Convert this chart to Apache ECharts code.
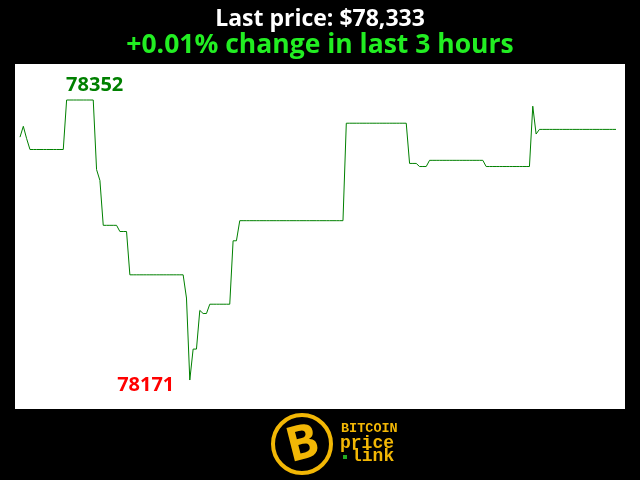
<!DOCTYPE html>
<html><head><meta charset="utf-8">
<script src="https://cdn.jsdelivr.net/npm/echarts@6/dist/echarts.min.js"></script>
<style>html,body{margin:0;padding:0;background:#000}#c{width:640px;height:480px}</style>
</head><body><div id="c"></div><script>
// one price per minute over the last 3 hours (180 samples)
const prices = [
78328,78335,78327,78320,78320,78320,78320,78320,78320,78320,
78320,78320,78320,78320,78352,78352,78352,78352,78352,78352,
78352,78352,78352,78307,78300,78271,78271,78271,78271,78271,
78267,78267,78267,78239,78239,78239,78239,78239,78239,78239,
78239,78239,78239,78239,78239,78239,78239,78239,78239,78239,
78224,78171,78191,78191,78216,78214,78214,78220,78220,78220,
78220,78220,78220,78220,78261,78261,78274,78274,78274,78274,
78274,78274,78274,78274,78274,78274,78274,78274,78274,78274,
78274,78274,78274,78274,78274,78274,78274,78274,78274,78274,
78274,78274,78274,78274,78274,78274,78274,78274,78337,78337,
78337,78337,78337,78337,78337,78337,78337,78337,78337,78337,
78337,78337,78337,78337,78337,78337,78337,78311,78311,78311,
78309,78309,78309,78313,78313,78313,78313,78313,78313,78313,
78313,78313,78313,78313,78313,78313,78313,78313,78313,78313,
78309,78309,78309,78309,78309,78309,78309,78309,78309,78309,
78309,78309,78309,78309,78348,78330,78333,78333,78333,78333,
78333,78333,78333,78333,78333,78333,78333,78333,78333,78333,
78333,78333,78333,78333,78333,78333,78333,78333,78333,78333
];
const titleText = 'Last price: $78,333';
const subtitleText = '+0.01% change in last 3 hours';
const logoLines = ['BITCOIN', 'price', 'link'];

const seriesData = prices.map((v, i) => [i, v]);
const maxV = Math.max(...prices), minV = Math.min(...prices);
const iMax = prices.indexOf(maxV), iMin = prices.indexOf(minV);

const chart = echarts.init(document.getElementById('c'), null, {renderer: 'canvas'});
const gold = '#f2b705';
chart.setOption({
  backgroundColor: '#000',
  animation: false,
  title: [
    {text: titleText, left: 'center', top: 3,
     textStyle: {color: '#fff', fontFamily: '"Open Sans"', fontWeight: 'bold', fontSize: 23}},
    {text: subtitleText, left: 'center', top: 27,
     textStyle: {color: '#22ee22', fontFamily: '"Open Sans"', fontWeight: 'bold', fontSize: 26.5}}
  ],
  grid: {left: 15, top: 64, width: 610, height: 345, show: true, backgroundColor: '#fff', borderWidth: 0},
  xAxis: {type: 'value', min: -1.5, max: 181.7, show: false},
  yAxis: {type: 'value', min: 78152.27, max: 78375.27, show: false},
  series: [{
    type: 'line', data: seriesData, showSymbol: false, symbol: 'none',
    lineStyle: {color: '#008000', width: 1},
    markPoint: {
      symbol: 'circle', symbolSize: 1, itemStyle: {color: 'rgba(0,0,0,0)'},
      data: [
        {coord: [iMax, maxV], value: maxV,
         label: {show: true, formatter: String(maxV), position: [0, -14], align: 'left', verticalAlign: 'middle',
                 color: '#008000', fontFamily: '"Open Sans"', fontWeight: 'bold', fontSize: 20}},
        {coord: [iMin, minV], value: minV,
         label: {show: true, formatter: String(minV), position: [-15, 6], align: 'right', verticalAlign: 'middle',
                 color: '#ff0000', fontFamily: '"Open Sans"', fontWeight: 'bold', fontSize: 20}}
      ]
    }
  }],
  graphic: [
    {type: 'circle', shape: {cx: 302, cy: 444, r: 29}, style: {fill: '#000', stroke: gold, lineWidth: 4}},
    {type: 'text', x: 303, y: 445, rotation: 0.25,
     style: {text: 'B', font: 'bold 48px "Open Sans"', fill: gold, align: 'center', verticalAlign: 'middle'}},
    {type: 'text', x: 341, y: 429,
     style: {text: logoLines[0], font: 'bold 13.5px "Liberation Mono"', fill: gold, verticalAlign: 'middle'}},
    {type: 'text', x: 340, y: 443,
     style: {text: logoLines[1], font: 'bold 18px "Liberation Mono"', fill: gold, verticalAlign: 'middle'}},
    {type: 'rect', shape: {x: 343, y: 455, width: 4, height: 4}, style: {fill: '#22aa22'}},
    {type: 'text', x: 351, y: 456,
     style: {text: logoLines[2], font: 'bold 18px "Liberation Mono"', fill: gold, verticalAlign: 'middle'}}
  ]
});
</script></body></html>
